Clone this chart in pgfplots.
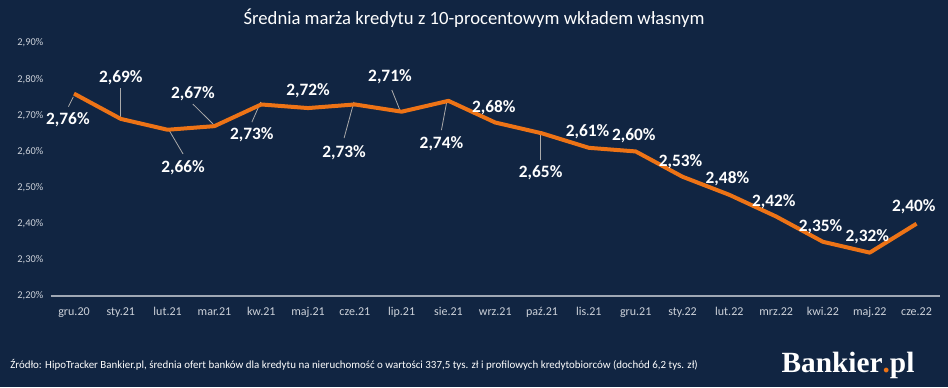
\documentclass[border=0pt]{standalone}
\usepackage{pgfplots}
\pgfplotsset{compat=1.18}
\usepackage{fontspec}
\setmainfont{Carlito}
\newfontfamily\logofont{Liberation Serif}
\definecolor{bg}{RGB}{17,37,66}
\definecolor{lineor}{RGB}{237,115,22}
\definecolor{ticktxt}{RGB}{205,210,218}
\definecolor{axline}{RGB}{160,168,180}
\definecolor{leader}{RGB}{170,170,170}
\begin{document}
\begin{tikzpicture}
\fill[bg] (0,0) rectangle (711pt,290.25pt);
\useasboundingbox (0,0) rectangle (711pt,290.25pt);
\node[text=white, font=\fontsize{14}{16}\selectfont] at (355.5pt,276.5pt) {Średnia marża kredytu z 10-procentowym wkładem własnym};
\begin{axis}[
  at={(37.95pt,68.25pt)}, anchor=south west,
  scale only axis, width=667pt, height=189.75pt,
  xmin=-0.5, xmax=18.5, ymin=2.2, ymax=2.9,
  axis x line*=bottom, axis y line*=left,
  x axis line style={draw=axline, line width=0.8pt, -},
  y axis line style={draw=none},
  major tick length=0pt,
  xtick={0,...,18},
  xticklabels={gru.20,sty.21,lut.21,mar.21,kw.21,maj.21,cze.21,lip.21,sie.21,wrz.21,paź.21,lis.21,gru.21,sty.22,lut.22,mrz.22,kwi.22,maj.22,cze.22},
  ytick={2.2,2.3,2.4,2.5,2.6,2.7,2.8,2.9},
  yticklabels={{2,20\%},{2,30\%},{2,40\%},{2,50\%},{2,60\%},{2,70\%},{2,80\%},{2,90\%}},
  xticklabel style={text=ticktxt, font=\fontsize{9}{10}\selectfont, yshift=-5pt},
  yticklabel style={text=ticktxt, font=\fontsize{7.8}{9}\selectfont, xshift=-2pt},
  clip=false,
]
\draw[leader, line width=0.6pt] (axis cs:-0.12,2.724) -- (axis cs:-0.015,2.751);
\draw[leader, line width=0.6pt] (axis cs:1.0,2.775) -- (axis cs:1.0,2.695);
\draw[leader, line width=0.6pt] (axis cs:2.03,2.659) -- (axis cs:2.33,2.593);
\draw[leader, line width=0.6pt] (axis cs:2.54,2.731) -- (axis cs:2.97,2.676);
\draw[leader, line width=0.6pt] (axis cs:3.99,2.737) -- (axis cs:3.80,2.681);
\draw[leader, line width=0.6pt] (axis cs:5.98,2.737) -- (axis cs:5.77,2.637);
\draw[leader, line width=0.6pt] (axis cs:6.79,2.77) -- (axis cs:6.96,2.715);
\draw[leader, line width=0.6pt] (axis cs:7.97,2.742) -- (axis cs:7.85,2.659);
\draw[leader, line width=0.6pt] (axis cs:9.97,2.651) -- (axis cs:9.97,2.576);
\addplot[color=lineor, line width=3pt, mark=none, line join=round] coordinates {
(0,2.76) (1,2.69) (2,2.66) (3,2.67) (4,2.73) (5,2.72) (6,2.73) (7,2.71) (8,2.74) (9,2.68)
(10,2.65) (11,2.61) (12,2.60) (13,2.53) (14,2.48) (15,2.42) (16,2.35) (17,2.32) (18,2.40)};
\begin{scope}[every node/.style={text=white, font=\fontsize{13}{15}\selectfont\bfseries, inner sep=1pt}]
\node at (axis cs:-0.13,2.687) {2,76\%};
\node at (axis cs:1.0,2.803) {2,69\%};
\node at (axis cs:2.33,2.554) {2,66\%};
\node at (axis cs:2.54,2.759) {2,67\%};
\node at (axis cs:3.80,2.645) {2,73\%};
\node at (axis cs:5.0,2.767) {2,72\%};
\node at (axis cs:5.77,2.596) {2,73\%};
\node at (axis cs:6.75,2.806) {2,71\%};
\node at (axis cs:7.85,2.622) {2,74\%};
\node at (axis cs:8.97,2.72) {2,68\%};
\node at (axis cs:9.97,2.54) {2,65\%};
\node at (axis cs:10.97,2.654) {2,61\%};
\node at (axis cs:11.96,2.643) {2,60\%};
\node at (axis cs:12.96,2.571) {2,53\%};
\node at (axis cs:13.96,2.524) {2,48\%};
\node at (axis cs:14.95,2.46) {2,42\%};
\node at (axis cs:15.95,2.391) {2,35\%};
\node at (axis cs:16.95,2.363) {2,32\%};
\node at (axis cs:17.94,2.446) {2,40\%};
\end{scope}
\end{axis}
\node[anchor=west, text=white, font=\fontsize{8.2}{9}\selectfont, inner sep=0pt] at (7.5pt,16.5pt) {Źródło: HipoTracker Bankier.pl, średnia ofert banków dla kredytu na nieruchomość o wartości 337,5 tys. zł i profilowych kredytobiorców (dochód 6,2 tys. zł)};
\node[anchor=west, text=white, font=\logofont\fontsize{22}{24}\selectfont\bfseries, inner sep=0pt] at (586pt,16.5pt) {Bankier\textcolor{lineor}{.}pl};
\end{tikzpicture}
\end{document}
